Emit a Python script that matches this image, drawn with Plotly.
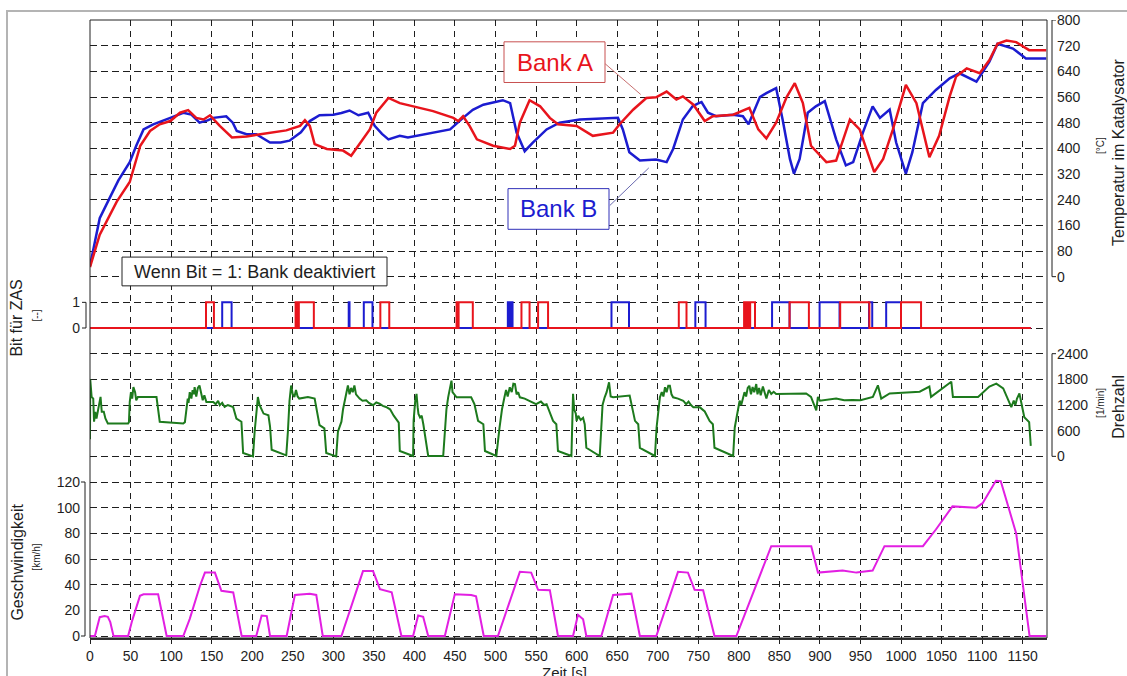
import plotly.graph_objects as go

# ---------------- data ----------------
# catalyst temperature, bank A (red) and bank B (blue)  [s], [°C]
time_a = [0, 12, 33, 49, 62, 74, 86, 99, 111, 121, 131, 140, 148, 160, 175, 193, 210, 242,
          259, 265, 271, 277, 292, 312, 322, 333, 345, 353, 368, 382, 423, 448, 454, 460,
          468, 477, 497, 518, 524, 530, 542, 555, 567, 577, 600, 620, 645, 653, 670, 686,
          698, 711, 723, 731, 744, 758, 768, 793, 813, 824, 834, 846, 859, 869, 879, 889,
          908, 920, 937, 949, 967, 978, 990, 1006, 1019, 1035, 1047, 1060, 1068, 1081,
          1097, 1109, 1119, 1130, 1142, 1158, 1179]
temp_a = [30, 131, 234, 295, 408, 454, 475, 485, 511, 519, 495, 490, 503, 470, 434, 437, 444, 456,
          470, 488, 470, 413, 398, 393, 377, 418, 459, 511, 557, 541, 516, 495, 485, 500,
          470, 428, 408, 398, 408, 480, 550, 531, 495, 475, 470, 439, 449, 475, 521, 557,
          559, 577, 552, 562, 536, 485, 500, 505, 526, 459, 431, 480, 560, 603, 541, 408,
          357, 362, 490, 459, 326, 367, 459, 598, 541, 372, 439, 562, 624, 649,
          634, 675, 726, 736, 731, 706, 706]

time_b = [0, 5, 12, 24, 35, 49, 57, 66, 78, 99, 115, 125, 135, 145, 152, 168, 176, 181, 193, 205,
          222, 235, 246, 260, 271, 283, 300, 310, 320, 331, 343, 351, 360, 368, 382, 392, 423,
          444, 460, 472, 485, 509, 518, 526, 536, 546, 563, 579, 604, 641, 651, 657, 665, 678,
          698, 711, 719, 731, 743, 750, 754, 762, 772, 793, 805, 812, 826, 834, 846, 854, 863,
          868, 875, 885, 895, 906, 920, 932, 941, 953, 965, 974, 986, 994, 1006, 1014, 1027,
          1043, 1060, 1072, 1093, 1109, 1119, 1138, 1154, 1179]
temp_b = [34, 100, 182, 244, 300, 357, 408, 459, 475, 495, 511, 505, 480, 487, 495, 500, 480, 454, 444, 444,
          418, 418, 424, 450, 485, 503, 505, 510, 518, 503, 511, 470, 445, 428, 439, 434, 449,
          459, 495, 520, 536, 550, 541, 449, 391, 418, 459, 480, 490, 495, 495, 459, 388, 362,
          365, 357, 398, 490, 531, 540, 544, 511, 500, 505, 500, 475, 560, 572, 588, 490, 367,
          321, 367, 511, 531, 547, 428, 347, 357, 449, 531, 495, 521, 418, 321, 388, 541,
          582, 618, 634, 608, 670, 726, 711, 680, 680]

# cylinder deactivation bit: switch-on / switch-off times [s]
bit_a_on = [143, 253.5, 255.5, 257.5, 358, 452, 454.5, 532, 552.5, 726, 806.5, 808.3, 810.1,
            811.9, 814, 862.6, 925, 1000]
bit_a_off = [152.8, 254.5, 256.5, 276, 369, 453, 472, 542, 564.8, 735.5, 807.5, 809.3, 811.1,
             812.9, 820, 886.4, 961, 1024.7]
bit_b_on = [163, 319, 337.6, 515.2, 517.2, 519, 643, 746.4, 841, 899.6, 960.5, 981.7]
bit_b_off = [174.6, 320, 348.3, 515.9, 517.9, 521, 664.6, 759, 862.6, 924.2, 964.5, 1000]
bit_end = 1160

# engine speed [s], [1/min]
time_n = [0, 0.3, 2, 4, 5, 6.5, 8, 10, 13, 14.5, 17, 19, 22, 47, 48, 49, 50.5, 52, 53.5, 55.6,
          57, 59, 82, 86, 115, 117, 119, 120.5, 121.5, 123, 125, 126.5, 128, 129, 131, 133,
          135, 137, 139, 141, 143.5, 152, 155, 158, 160, 163, 166, 170, 176.5, 180.5, 186.7,
          188.8, 201, 203, 205, 207, 209, 211, 214, 220, 222, 224, 242, 244, 246, 248, 250,
          252, 254, 256, 258, 268.7, 277, 283, 289, 291.3, 303.6, 305.7, 308, 310, 312, 314,
          316, 318, 320, 322, 324, 326, 328, 330, 332.4, 336, 340.6, 344, 349, 353, 357, 361,
          365, 370, 374.5, 380.7, 382, 398.4, 399, 401, 402.6, 404, 405, 407, 409, 411, 417,
          435.5, 437.5, 439.5, 441.6, 443, 445.7, 447, 449, 452, 470, 474, 478.5, 485, 487,
          501, 505, 508, 511, 513, 515, 517.6, 520, 522, 524, 526, 528, 530, 536, 542, 546,
          550, 556, 560, 563, 567, 571, 575, 577, 593.6, 595.6, 597, 599, 600, 602, 605, 608,
          610, 612, 628.5, 630.5, 632, 634.6, 637, 640, 642, 645, 665.4, 672, 676, 678,
          696.6, 698.6, 701, 702.7, 705, 707, 709, 711, 713, 715, 717, 719, 725, 731.5, 735,
          738, 741, 744, 752, 758, 764, 768, 770, 793, 795, 797, 799, 801, 803, 805, 807, 809,
          811, 813, 815, 817, 819, 821.5, 823, 825, 827, 829.7, 832, 834, 837, 840, 843, 846,
          883, 889, 895.5, 897.5, 900, 905, 920, 930, 940, 950, 965.3, 971.5, 975.6, 986,
          1000, 1023, 1035, 1037, 1062, 1064, 1095, 1109, 1117.5, 1126, 1136, 1139, 1141,
          1143, 1146, 1149, 1152, 1158, 1160]
speed_n = [400, 1800, 1390, 1350, 810, 1040, 885, 1115, 1390, 1040, 1040, 885, 770, 770, 800, 1270,
           1500, 1350, 1620, 1500, 1310, 1386, 1386, 810, 770, 800, 1115, 1350, 1250, 1500, 1350,
           1550, 1450, 1617, 1400, 1600, 1655, 1450, 1310, 1425, 1270, 1270, 1220, 1300, 1195,
           1250, 1155, 1200, 1155, 885, 810, 77, 0, 577, 1100, 1386, 1200, 1115, 1000, 960, 693,
           154, 23, 577, 1300, 1655, 1450, 1386, 1550, 1400, 1350, 1386, 1350, 731, 654, 77, 0,
           577, 700, 810, 1100, 1310, 1500, 1655, 1450, 1600, 1500, 1655, 1450, 1400, 1350,
           1300, 1310, 1250, 1195, 1260, 1230, 1180, 1155, 1100, 950, 790, 125, 8, 830, 1300,
           1460, 1150, 990, 910, 950, 750, 8, 8, 675, 1100, 1380, 1550, 1770, 1500, 1450, 1380,
           1380, 1220, 830, 750, 125, 8, 675, 1100, 1380, 1550, 1400, 1615, 1500, 1700, 1690,
           1450, 1500, 1380, 1350, 1300, 1260, 1220, 1280, 1200, 1220, 1000, 830, 750, 125, 8,
           1460, 1100, 1000, 830, 950, 850, 900, 750, 200, 8, 910, 1200, 1380, 1500, 1730, 1400,
           1380, 1420, 830, 750, 200, 8, 675, 1100, 1380, 1500, 1400, 1615, 1500, 1650, 1650,
           1450, 1380, 1350, 1300, 1220, 1280, 1200, 1145, 1145, 1050, 830, 750, 200, 8, 675,
           900, 1145, 1300, 1200, 1380, 1500, 1400, 1600, 1650, 1450, 1620, 1500, 1690, 1450,
           1600, 1430, 1630, 1450, 1350, 1550, 1460, 1510, 1460, 1470, 1390, 1075, 1390, 1300,
           1310, 1350, 1310, 1320, 1310, 1390, 1660, 1350, 1470, 1480, 1510, 1630, 1390, 1745,
           1390, 1390, 1630, 1700, 1590, 1150, 1300, 1200, 1350, 1470, 1230, 915, 800, 245]

# vehicle speed [s], [km/h]
time_v = [0, 6, 12, 18, 22, 25, 29, 47, 52, 61.6, 66, 84, 94.5, 115, 123, 135.5, 141.7, 154, 162,
          176.6, 187, 205, 211.6, 218, 222, 242.5, 252.6, 271, 279, 287, 310, 336.6, 349, 357.5,
          372, 382, 384, 398.4, 404.6, 410.8, 417, 437.5, 449.8, 470, 476, 485.5, 503, 530, 544,
          552.5, 567, 577, 595.6, 601.7, 608, 612, 630.5, 645, 667.5, 678, 698.3, 725, 737.3,
          745.5, 756, 770, 797, 840, 889.3, 897.6, 908, 928, 945, 965, 979.6, 1027, 1043,
          1063.4, 1092.6, 1100.6, 1117, 1123, 1142, 1158.5, 1179]
veh_v = [0, 0, 14.7, 15.5, 15, 10.8, 0, 0, 12, 31.3, 32.5, 32.5, 0, 0, 13.4, 39, 49.4, 49.4, 35.2,
         34, 0, 0, 16, 15.5, 0, 0, 32, 33, 32, 0, 0, 50.6, 50.6, 36.5,
         34, 5.6, 0, 0, 16, 15, 0, 0, 32.6, 32, 31, 0, 0, 50, 49.4,
         36, 35.7, 0, 0, 16.5, 13, 0, 0, 32, 33, 0, 0, 50, 49.4,
         36, 35.7, 0, 0, 70, 70, 49.4, 50, 51, 49.4, 51, 70, 70, 83,
         101, 100, 103.5, 121, 120.7, 80, 0, 0]

x_ticks = list(range(0, 1151, 50))
temp_ticks = list(range(0, 801, 80))
bit_ticks = [0, 1]
n_ticks = list(range(0, 2401, 600))
v_ticks = list(range(0, 121, 20))

# ---------------- styling ----------------
W, H = 1127, 676
L, R, T, B = 90, 1047, 16, 639          # plot frame in pixels
FONT = "Liberation Sans, Arial, sans-serif"
INK = "#1e1e1e"
RED, BLUE, GREEN, MAGENTA = "#e8141c", "#1c1cd0", "#1d7a1d", "#e21fe2"


def fx(px):
    return (px - L) / (R - L)


def fy(py):
    return (B - py) / (B - T)


# one common dashed grid in "grid units": 24 unit steps from top to bottom
U_MIN, U_MAX = -(B - 637) / ((637 - T) / 24), 24.0


def dom(u0, u1):
    span = U_MAX - U_MIN
    return [max(0.0, (u0 - U_MIN) / span), min(1.0, (u1 - U_MIN) / span)]


def rng(u0, u1, u_zero, per_unit):
    return [(u0 - u_zero) * per_unit, (u1 - u_zero) * per_unit]


def step_series(on, off, end):
    xs, ys = [0], [0]
    for a, b in zip(on, off):
        xs += [a, b]
        ys += [1, 0]
    xs.append(end)
    ys.append(0)
    return xs, ys


fig = go.Figure()

# invisible trace that carries the full-height grid subplot
fig.add_trace(go.Scatter(x=[0, 1180], y=[0, 24], mode="markers", marker=dict(opacity=0),
                         hoverinfo="skip", showlegend=False, xaxis="x", yaxis="y"))

fig.add_trace(go.Scatter(x=time_b, y=temp_b, mode="lines", line=dict(color=BLUE, width=2.5),
                         xaxis="x2", yaxis="y2", showlegend=False))
fig.add_trace(go.Scatter(x=time_a, y=temp_a, mode="lines", line=dict(color=RED, width=2.5),
                         xaxis="x2", yaxis="y2", showlegend=False))

bx, by = step_series(bit_b_on, bit_b_off, bit_end)
ax_, ay_ = step_series(bit_a_on, bit_a_off, bit_end)
fig.add_trace(go.Scatter(x=bx, y=by, mode="lines", line=dict(color=BLUE, width=2, shape="hv"),
                         xaxis="x2", yaxis="y3", showlegend=False))
fig.add_trace(go.Scatter(x=ax_, y=ay_, mode="lines", line=dict(color=RED, width=2, shape="hv"),
                         xaxis="x2", yaxis="y3", showlegend=False))

fig.add_trace(go.Scatter(x=time_n, y=speed_n, mode="lines", line=dict(color=GREEN, width=2),
                         xaxis="x2", yaxis="y4", showlegend=False))
fig.add_trace(go.Scatter(x=time_v, y=veh_v, mode="lines", line=dict(color=MAGENTA, width=2),
                         xaxis="x2", yaxis="y5", showlegend=False))

tick_font = dict(family=FONT, size=14, color=INK)
common_y = dict(showgrid=False, zeroline=False, showline=False, ticks="", anchor="x2",
                tickfont=tick_font, ticklabelstandoff=9)

fig.update_layout(
    width=W, height=H,
    margin=dict(l=L, r=W - R, t=T, b=H - B, pad=0),
    paper_bgcolor="white", plot_bgcolor="rgba(0,0,0,0)",
    font=dict(family=FONT, color=INK),
    xaxis=dict(domain=[0, 1], range=[0, 1180], tickvals=x_ticks, anchor="y",
               showgrid=True, gridcolor=INK, gridwidth=1, griddash="6px,5px",
               ticks="outside", ticklen=4, tickcolor=INK, showline=True, linecolor="#333",
               linewidth=2, zeroline=False, tickfont=tick_font, ticklabelstandoff=0),
    yaxis=dict(domain=[0, 1], range=[U_MIN, U_MAX], tickvals=list(range(0, 25)), anchor="x",
               showgrid=True, gridcolor=INK, gridwidth=1, griddash="7px,4px",
               showticklabels=False, ticks="", zeroline=False, showline=False),
    xaxis2=dict(domain=[0, 1], range=[0, 1180], visible=False, anchor="y5"),
    yaxis2=dict(domain=dom(13.6, 24), range=rng(13.6, 24, 14, 80), tickvals=temp_ticks,
                side="right", **common_y),
    yaxis3=dict(domain=dom(11.6, 13.4), range=rng(11.6, 13.4, 12, 1), tickvals=bit_ticks,
                side="left", **common_y),
    yaxis4=dict(domain=dom(6.6, 11.4), range=rng(6.6, 11.4, 7, 600), tickvals=n_ticks,
                side="right", **common_y),
    yaxis5=dict(domain=dom(U_MIN, 6.4), range=rng(U_MIN, 6.4, 0, 20), tickvals=v_ticks,
                side="left", **common_y),
)

shapes = []
# outer window border (top and left edges visible)
shapes.append(dict(type="rect", xref="paper", yref="paper", x0=fx(7), y0=fy(H + 20),
                   x1=fx(W + 20), y1=fy(7), line=dict(color="#b4b4b4", width=2), layer="above"))
# plot frame
shapes.append(dict(type="rect", xref="paper", yref="paper", x0=0, y0=0, x1=1, y1=1,
                   line=dict(color="#222", width=1), layer="above"))


# bracket-style value axes
def bracket(yref, v0, v1, px, px_tick):
    a, b = fx(px), fx(px_tick)
    return dict(type="path", xref="paper", yref=yref,
                path=f"M {b},{v1} L {a},{v1} L {a},{v0} L {b},{v0}",
                line=dict(color=INK, width=1), layer="above")


shapes.append(bracket("y2", 0, 800, 1052, 1056))
shapes.append(bracket("y4", 0, 2400, 1052, 1056))
shapes.append(bracket("y3", 0, 1, 86, 82))
shapes.append(bracket("y5", 0, 120, 85, 81))

# note box and bank labels
shapes.append(dict(type="rect", xref="paper", yref="paper", x0=fx(122), y0=fy(284),
                   x1=fx(387), y1=fy(255), line=dict(color="#222", width=1),
                   fillcolor="white", layer="above"))
shapes.append(dict(type="rect", xref="paper", yref="paper", x0=fx(504), y0=fy(79),
                   x1=fx(605), y1=fy(38), line=dict(color="#c85050", width=1),
                   fillcolor="white", layer="above"))
shapes.append(dict(type="rect", xref="paper", yref="paper", x0=fx(508), y0=fy(227),
                   x1=fx(609), y1=fy(186), line=dict(color="#3030b8", width=1),
                   fillcolor="white", layer="above"))
# leader lines from the labels to the curves
shapes.append(dict(type="line", xref="x2", yref="y2", x0=635, y0=664, x1=679, y1=568,
                   line=dict(color="#c87070", width=1), layer="above"))
shapes.append(dict(type="line", xref="x2", yref="y2", x0=641, y0=222, x1=689, y1=339,
                   line=dict(color="#6a6ab0", width=1), layer="above"))

fig.update_layout(shapes=shapes)


def label(text, px, py, size=16, color=INK, angle=0):
    return dict(text=text, xref="paper", yref="paper", x=fx(px), y=fy(py),
                xanchor="center", yanchor="middle", showarrow=False, textangle=angle,
                font=dict(family=FONT, size=size, color=color))


fig.update_layout(annotations=[
    label("Wenn Bit = 1: Bank deaktiviert", 254.5, 270, size=18),
    label("Bank A", 554.5, 58.5, size=24, color=RED),
    label("Bank B", 558.5, 206.5, size=24, color=BLUE),
    label("Temperatur im Katalysator", 1119, 150, angle=-90),
    label("[°C]", 1101, 143, size=10, angle=-90),
    label("Drehzahl", 1119, 406, angle=-90),
    label("[1/min]", 1101, 402, size=10, angle=-90),
    label("Bit für ZAS", 17, 317, angle=-90),
    label("[--]", 37, 314, size=10, angle=-90),
    label("Geschwindigkeit", 18, 563, angle=-90),
    label("[km/h]", 37, 558, size=10, angle=-90),
    label("Zeit [s]", 564, 673.5, size=15),
])

fig.write_html("out.html")
